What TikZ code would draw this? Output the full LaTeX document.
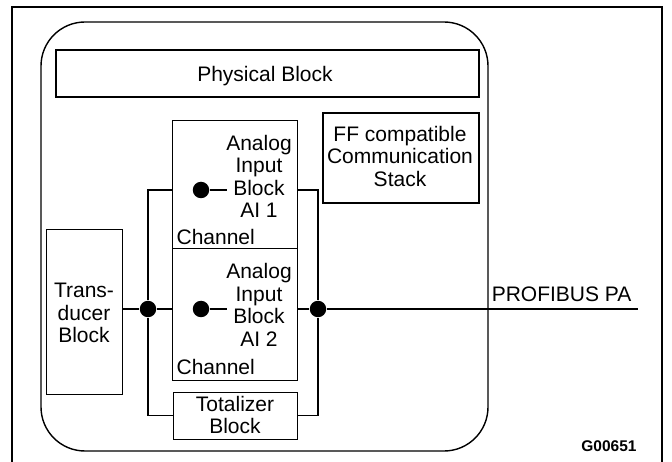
\documentclass[tikz,border=0pt]{standalone}
\usepackage{fontspec}
\setmainfont{Liberation Sans}
\usetikzlibrary{calc}

\tikzset{
  blk/.style={draw, line width=1.2pt, inner sep=0pt},
  lbl/.style={font=\fontsize{21}{22.5}\selectfont, align=center, inner sep=0pt},
  dot/.style={circle, fill, inner sep=0pt, minimum size=16.5pt},
}

\begin{document}
\begin{tikzpicture}[x=1pt, y=-1pt, line width=1.2pt]
			\useasboundingbox (0,0) rectangle (672,462);
			% frame and housing
			\draw[line width=2.2pt] (12,462) -- (12,7) -- (662,7) -- (662,462);
			\draw[line width=1.4pt, rounded corners=44pt] (41,22) rectangle (488,451);
			% blocks
			\node[blk, minimum width=423pt, minimum height=47pt] (phys) at (267.5,73.5) {};
			\node[lbl] (physt) at (265,76) {Physical Block};
			\node[blk, minimum width=156pt, minimum height=90pt] (ff) at (401,158) {};
			\node[lbl] (fft) at (400,156) {FF compatible\\Communication\\Stack};
			\node[blk, minimum width=124.5pt, minimum height=127.5pt] (ai1) at (235,184.5) {};
			\node[blk, minimum width=124.5pt, minimum height=132pt] (ai2) at (235,314.3) {};
			\node[blk, minimum width=75.5pt, minimum height=165pt] (td) at (84.5,311.8) {};
			\node[lbl] (tdt) at (84,313) {Trans-\\ducer\\Block};
			\node[draw, line width=0.8pt, minimum width=124pt, minimum height=47pt] (tot) at (235,415.7) {};
			\node[lbl] (tott) at (235,415) {Totalizer\\Block};
			% analog input texts
			\node[lbl] (ai1t) at (259,176.5) {Analog\\Input\\Block\\AI 1};
			\node[lbl, anchor=west] (ch1) at (176,237) {Channel};
			\node[lbl] (ai2t) at (259,305) {Analog\\Input\\Block\\AI 2};
			\node[lbl, anchor=west] (ch2) at (176,367) {Channel};
			% channel dots
			\node[dot] (in1) at (201,190) {};
			\coordinate (in1e) at (227,190);
			\draw (in1) -- (in1e);
			\node[dot] (in2) at (201,309) {};
			\coordinate (in2e) at (227,309);
			\draw (in2) -- (in2e);
			% bus lines
			\node[dot] (ldot) at (148,309) {};
			\node[dot] (rdot) at (318,309) {};
			\draw (td.east |- ldot) -- (ldot) -- (ai2.west |- ldot);
			\draw (ai1.west |- in1) -| (ldot) |- (tot.west);
			\draw (ai1.east |- in1) -| (rdot) |- (tot.east);
			\coordinate (busend) at (638,309);
			\draw (ai2.east |- rdot) -- (rdot) -- (busend);
			\node[lbl, anchor=south east] (pa) at (632,302.5) {PROFIBUS PA};
			\node[font=\bfseries\fontsize{15.5}{17}\selectfont, inner sep=0pt] (gnum) at (609,446) {G00651};
		\end{tikzpicture}
\end{document}
